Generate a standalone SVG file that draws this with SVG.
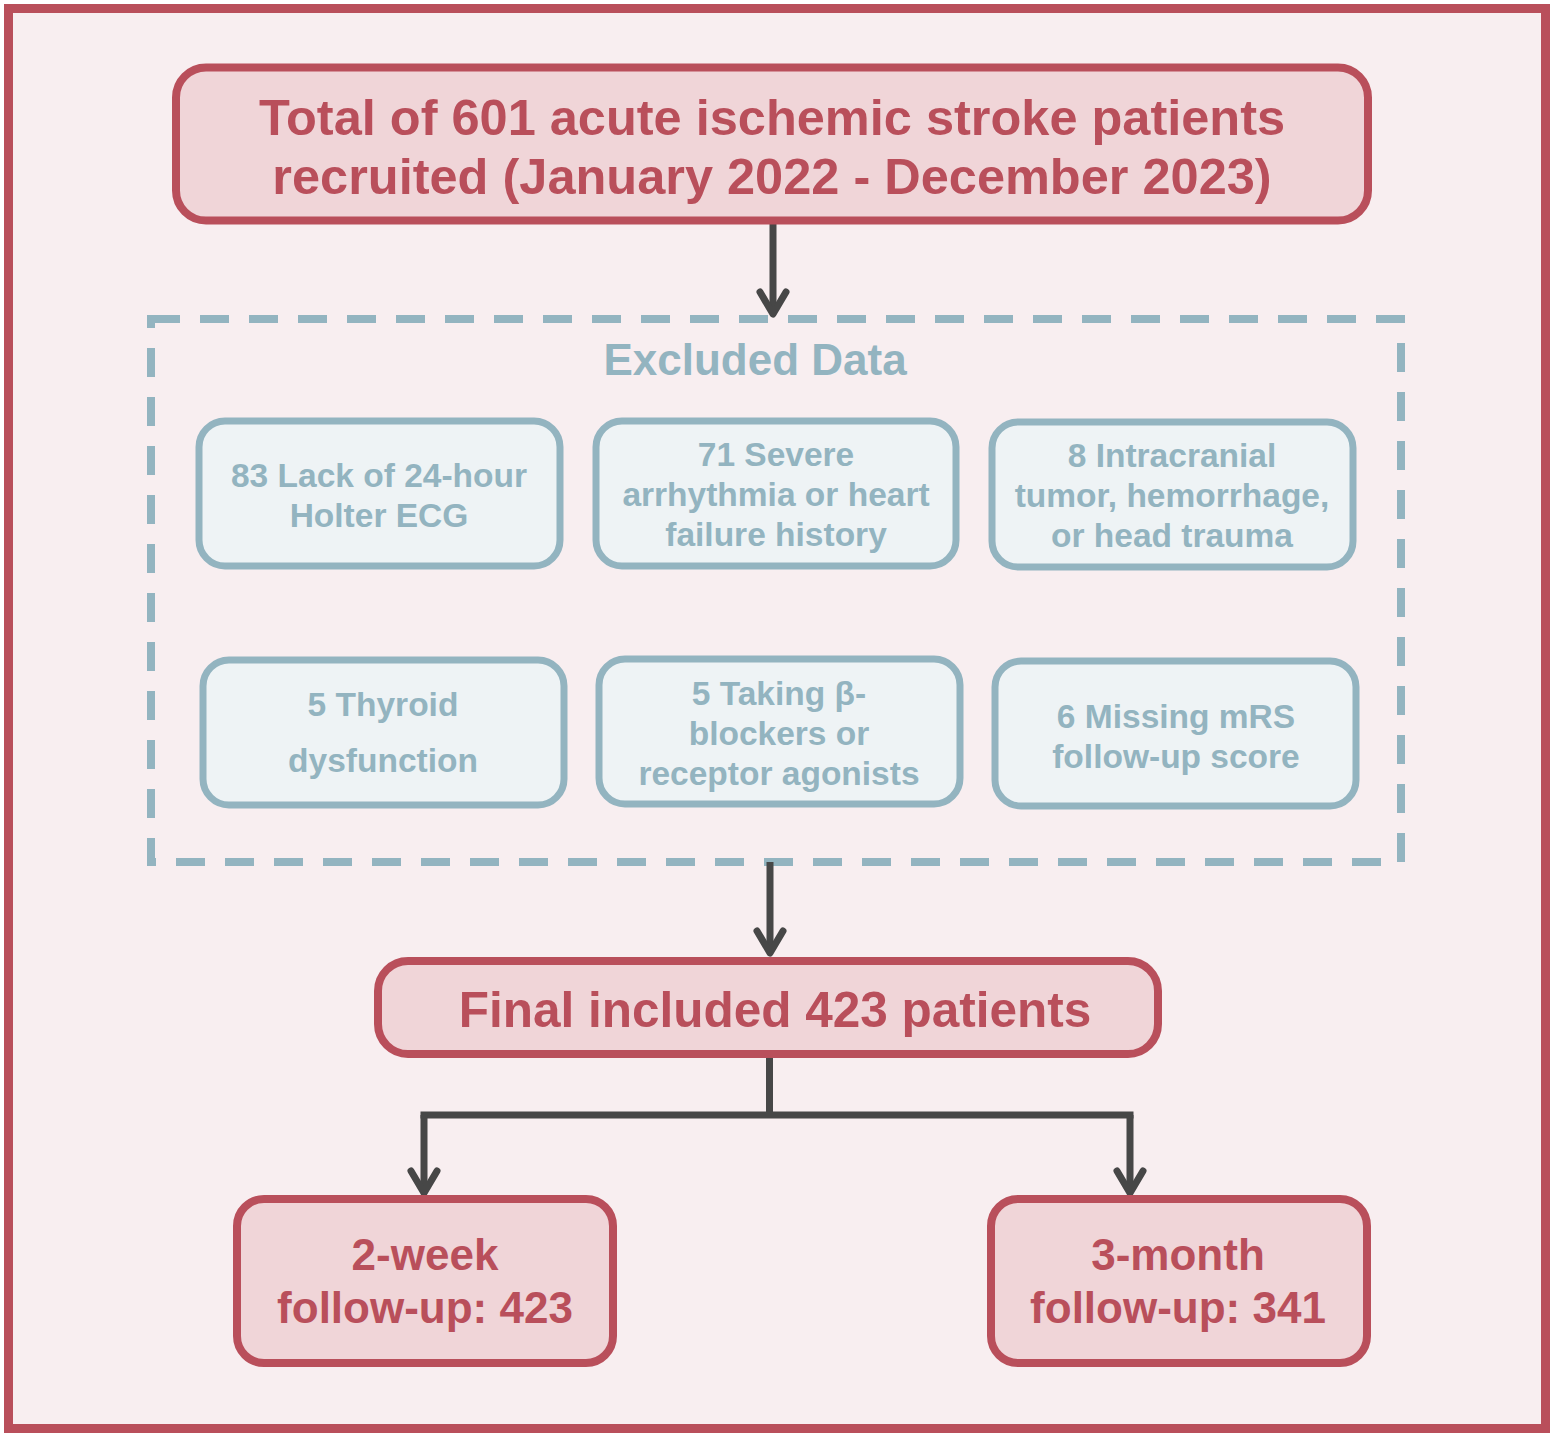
<svg xmlns="http://www.w3.org/2000/svg" width="1555" height="1438" viewBox="0 0 1555 1438">
<style>
.bg{fill:#f8eef0;stroke:#b94f5b;stroke-width:9}
.rbox{fill:#f0d5d8;stroke:#b94f5b;stroke-width:8}
.bbox{fill:#eef3f5;stroke:#93b4c0;stroke-width:7}
.dash{fill:none;stroke:#93b4c0;stroke-width:8;stroke-dasharray:29 20}
.rt{font-family:"Liberation Sans",Arial,Helvetica,sans-serif;font-weight:bold;fill:#b94f5b;text-anchor:middle}
.bt{font-family:"Liberation Sans",Arial,Helvetica,sans-serif;font-weight:bold;fill:#93b4c0;text-anchor:middle}
.conn{fill:none;stroke:#474747;stroke-width:7}
</style>
<defs>
<marker id="arr" markerUnits="userSpaceOnUse" viewBox="-30 -20 40 40" markerWidth="40" markerHeight="40" refX="0" refY="0" orient="auto">
<path d="M-22,-13 L0,0 L-22,13" fill="none" stroke="#474747" stroke-width="7" stroke-linecap="round" stroke-linejoin="round"/>
</marker>
</defs>
<rect class="bg" x="8.5" y="8.5" width="1537" height="1420"/>

<g id="excluded-group">
<rect class="dash" x="151" y="319" width="1250" height="543"/>
<text class="bt" x="755" y="375" font-size="44">Excluded Data</text>
</g>

<g id="connectors">
<path class="conn" d="M773,220 L773,314" marker-end="url(#arr)"/>
<path class="conn" d="M770,862 L770,953" marker-end="url(#arr)"/>
<path class="conn" d="M769.5,1058 L769.5,1115 M420.5,1115 L1133.5,1115"/>
<path class="conn" d="M424,1115 L424,1193" marker-end="url(#arr)"/>
<path class="conn" d="M1130,1115 L1130,1193" marker-end="url(#arr)"/>
</g>

<g id="total">
<rect class="rbox" x="176" y="67.5" width="1192" height="153" rx="30"/>
<text class="rt" x="772" y="135" font-size="50.5">Total of 601 acute ischemic stroke patients</text>
<text class="rt" x="772" y="194" font-size="50.5">recruited (January 2022 - December 2023)</text>
</g>

<g id="ex1">
<rect class="bbox" x="199" y="421" width="361" height="145" rx="26"/>
<text class="bt" x="379" y="487" font-size="33.5">83 Lack of 24-hour</text>
<text class="bt" x="379" y="527" font-size="33.5">Holter ECG</text>
</g>
<g id="ex2">
<rect class="bbox" x="596" y="421" width="360" height="145" rx="26"/>
<text class="bt" x="776" y="466" font-size="33.5">71 Severe</text>
<text class="bt" x="776" y="506" font-size="33.5">arrhythmia or heart</text>
<text class="bt" x="776" y="546" font-size="33.5">failure history</text>
</g>
<g id="ex3">
<rect class="bbox" x="992" y="422" width="361" height="145" rx="26"/>
<text class="bt" x="1172" y="467" font-size="33.5">8 Intracranial</text>
<text class="bt" x="1172" y="507" font-size="33.5">tumor, hemorrhage,</text>
<text class="bt" x="1172" y="547" font-size="33.5">or head trauma</text>
</g>
<g id="ex4">
<rect class="bbox" x="203" y="660" width="361" height="145" rx="26"/>
<text class="bt" x="383" y="716" font-size="33.5">5 Thyroid</text>
<text class="bt" x="383" y="772" font-size="33.5">dysfunction</text>
</g>
<g id="ex5">
<rect class="bbox" x="599" y="659" width="361" height="145" rx="26"/>
<text class="bt" x="779" y="705" font-size="33.5">5 Taking β-</text>
<text class="bt" x="779" y="745" font-size="33.5">blockers or</text>
<text class="bt" x="779" y="785" font-size="33.5">receptor agonists</text>
</g>
<g id="ex6">
<rect class="bbox" x="995" y="661" width="361" height="145" rx="26"/>
<text class="bt" x="1176" y="728" font-size="33.5">6 Missing mRS</text>
<text class="bt" x="1176" y="768" font-size="33.5">follow-up score</text>
</g>

<g id="final">
<rect class="rbox" x="378" y="961" width="780" height="93" rx="30"/>
<text class="rt" x="775" y="1027" font-size="49.5">Final included 423 patients</text>
</g>

<g id="week2">
<rect class="rbox" x="237" y="1199" width="376" height="164" rx="27"/>
<text class="rt" x="425" y="1270" font-size="44">2-week</text>
<text class="rt" x="425" y="1323" font-size="44">follow-up: 423</text>
</g>
<g id="month3">
<rect class="rbox" x="991" y="1199" width="376" height="164" rx="27"/>
<text class="rt" x="1178" y="1270" font-size="44">3-month</text>
<text class="rt" x="1178" y="1323" font-size="44">follow-up: 341</text>
</g>
</svg>
